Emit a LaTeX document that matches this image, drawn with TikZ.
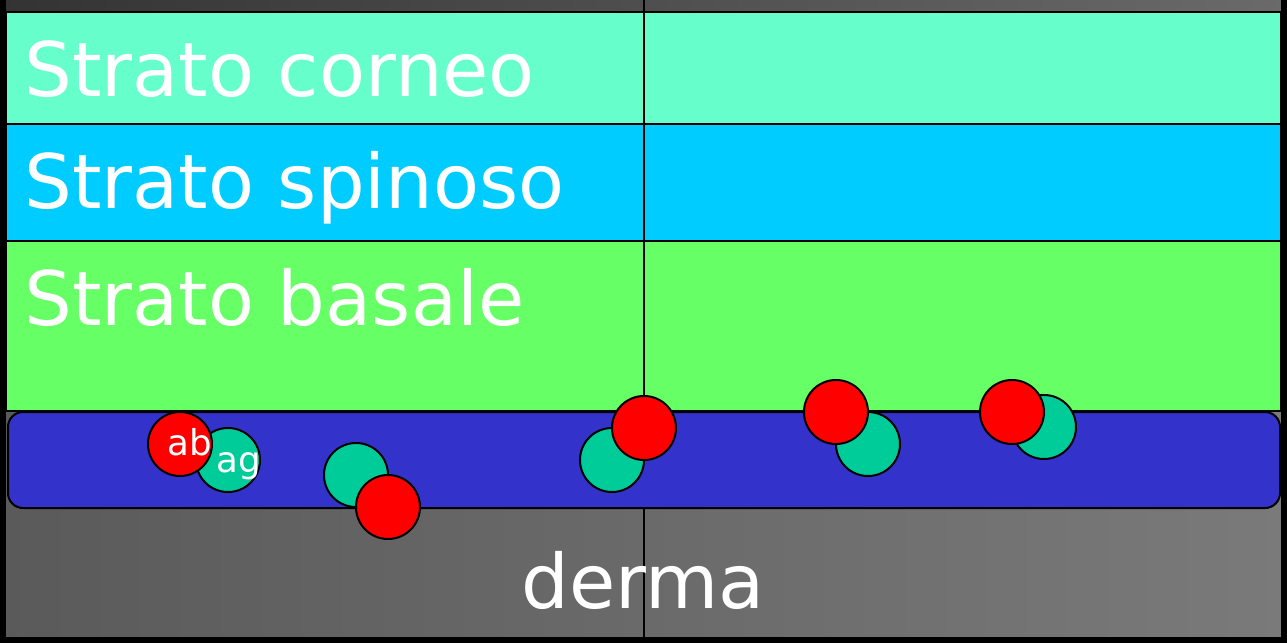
\documentclass[tikz,border=0pt]{standalone}
\usepackage{fontspec}
\setmainfont{DejaVu Sans}
\usepackage{xcolor}
\definecolor{corneo}{HTML}{66FFCC}
\definecolor{spinoso}{HTML}{00CCFF}
\definecolor{basale}{HTML}{66FF66}
\definecolor{membrana}{HTML}{3333CC}
\definecolor{antigene}{HTML}{00CC99}
\definecolor{anticorpo}{HTML}{FF0000}
\definecolor{bgdark}{HTML}{333333}
\definecolor{bgmid}{HTML}{6A6A6A}
\definecolor{dermaL}{HTML}{5A5A5A}
\definecolor{dermaR}{HTML}{7A7A7A}
\tikzset{
  strato/.style={draw=black, line width=1pt},
  etichetta/.style={white, inner sep=0pt, font=\fontsize{37.6}{44}\selectfont},
  mini/.style={white, inner sep=0pt, font=\fontsize{17.8}{20}\selectfont},
  cellab/.style={fill=anticorpo, draw=black, line width=1pt},
  cellag/.style={fill=antigene, draw=black, line width=1pt}
}
\begin{document}
\begin{tikzpicture}[x=0.5pt, y=-0.5pt]
\useasboundingbox (0,0) rectangle (1287,643);
% Background
\shade[left color=bgdark, right color=bgmid] (0,0) rectangle (1287,12);
\shade[left color=dermaL, right color=dermaR] (0,12) rectangle (1287,643);
\fill[black] (0,0) rectangle (6,643);
\fill[black] (1281,0) rectangle (1287,643);
\fill[black] (0,637) rectangle (1287,643);
% Layers
\filldraw[strato, fill=corneo] (6,12) rectangle (1281,124);
\filldraw[strato, fill=spinoso] (6,124) rectangle (1281,241);
\filldraw[strato, fill=basale] (6,241) rectangle (1281,411);
\draw[black, line width=1pt] (644,0) -- (644,637);
% Basal membrane
\filldraw[strato, fill=membrana, rounded corners=7.5pt] (8,412) rectangle (1280,508);
% Labels
\node[etichetta, anchor=base west] (corneo) at (24,96) {Strato corneo};
\node[etichetta, anchor=base west] (spinoso) at (24,208) {Strato spinoso};
\node[etichetta, anchor=base west] (basale) at (24,325) {Strato basale};
\node[etichetta, anchor=base] (derma) at (643,608) {derma};
% Antigen / antibody pairs
\filldraw[cellag] (228,460) circle (16pt);
\filldraw[cellab] (180,444) circle (16pt);
\filldraw[cellag] (356,475) circle (16pt);
\filldraw[cellab] (388,507) circle (16pt);
\filldraw[cellag] (612,460) circle (16pt);
\filldraw[cellab] (644,428) circle (16pt);
\filldraw[cellag] (868,444) circle (16pt);
\filldraw[cellab] (836,412) circle (16pt);
\filldraw[cellag] (1044,427) circle (16pt);
\filldraw[cellab] (1012,412) circle (16pt);
\node[mini, anchor=base] (ab) at (189.5,455) {ab};
\node[mini, anchor=base] (ag) at (239,472) {ag};
\end{tikzpicture}
\end{document}
